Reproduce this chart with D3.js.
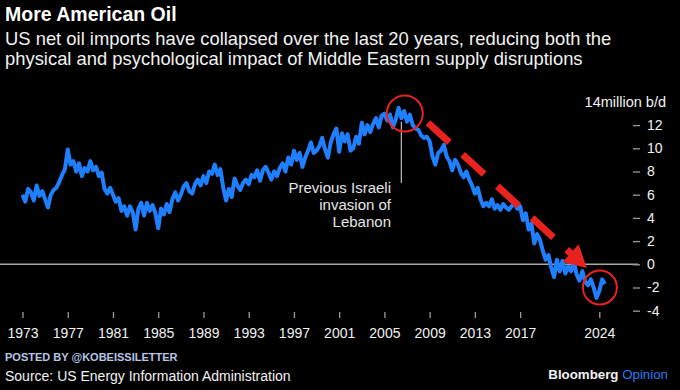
<!DOCTYPE html>
<html>
<head>
<meta charset="utf-8">
<script src="https://d3js.org/d3.v7.min.js"></script>
<style>
  html, body { margin:0; padding:0; background:#000; }
  svg { display:block; font-family:"Liberation Sans", Arial, sans-serif; }
  .axis text { fill:#f2f2f2; font-size:14px; }
  .axis line { stroke:#9a9a9a; stroke-width:1.3; }
  .axis path { display:none; }
</style>
</head>
<body>
<div id="chart"></div>
<script>
// US net oil imports, million b/d (quarterly readings)
var years = [];
for (var yr = 1973; yr <= 2024; yr++) {
  for (var q = 0; q < 4; q++) {
    if (yr === 2024 && q > 2) break;
    years.push(yr + q * 0.25);
  }
}
var imports = [
  6.0, 5.4, 6.5, 6.2,   5.5, 6.8, 5.9, 6.3,   5.6, 4.9, 6.0, 6.4,   6.6, 7.1, 7.7, 8.2,
  9.9, 8.6, 8.9, 8.0,   8.7, 7.6, 8.3, 8.0,   8.9, 8.1, 8.4, 7.6,   7.9, 6.5, 6.1, 6.6,
  6.0, 5.4, 5.7, 4.6,   5.0, 4.2, 5.0, 4.5,   3.0, 4.8, 5.3, 4.2,   5.3, 4.6, 5.1, 4.4,
  3.1, 4.8, 4.3, 5.2,   4.5, 5.6, 6.2, 5.5,   6.0, 6.7, 7.0, 6.3,   6.1, 6.9, 7.3, 6.8,
  7.6, 7.0, 8.0, 7.8,   8.6, 7.7, 8.2, 6.6,   5.5, 6.5, 5.8, 7.4,   6.8, 6.4, 7.0, 7.3,
  6.9, 7.7, 7.5, 8.1,   7.2, 8.1, 8.4, 7.9,   7.3, 8.0, 7.6, 8.3,   8.7, 8.0, 9.2, 8.6,
  9.8, 9.0, 9.6, 8.4,   9.2, 9.8, 10.5, 9.6,  9.8, 10.2, 10.9, 9.9, 9.2, 10.5, 11.2, 11.7,
  9.7, 11.3, 10.6, 11.2, 9.8, 10.0, 11.0, 10.4, 12.2, 11.2, 12.0, 11.4, 12.1, 12.6, 11.8, 12.8,
  13.0, 12.4, 12.9, 11.8, 12.5, 13.5, 12.6, 13.2, 12.3, 12.9, 12.0, 11.7, 11.6, 11.1, 10.9, 11.0,
  10.6, 9.3, 8.6, 9.6,  9.8, 10.3, 9.3, 8.9,  8.1, 9.0, 8.6, 7.9,   7.5, 8.0, 7.3, 6.8,
  6.1, 6.6, 5.6, 5.0,   5.3, 5.0, 5.6, 4.8,   5.1, 4.7, 5.2, 4.9,   4.7, 5.0, 5.3, 4.8,
  5.0, 3.8, 4.4, 3.0,   3.5, 1.8, 2.6, 2.1,   1.2, 0.4, 0.8, -0.3,  -1.1, 0.4, -0.6, 0.3,
  -0.8, -0.2, -0.6, 0.2, -0.9, -1.4, -0.6, -1.5, -1.8, -1.3, -2.0, -2.9, -2.3, -1.3, -1.7
];
var xTicks = [1973, 1977, 1981, 1985, 1989, 1993, 1997, 2001, 2005, 2009, 2013, 2017, 2024];
var yTicks = [-4, -2, 0, 2, 4, 6, 8, 10, 12];

var W = 680, H = 390;
var svg = d3.select('#chart').append('svg')
  .attr('width', W).attr('height', H);
svg.append('rect').attr('width', W).attr('height', H).attr('fill', '#000');

var x = d3.scaleLinear().domain([1973, 2024]).range([22.5, 599.3]);
var y = d3.scaleLinear().domain([-4, 14]).range([310.7, 101.9]);

// titles
svg.append('text').attr('x', 5).attr('y', 21)
  .attr('fill', '#fff').style('font-size', '19.5px').style('font-weight', 'bold')
  .text('More American Oil');
svg.append('text').attr('x', 5).attr('y', 45)
  .attr('fill', '#f2f2f2').style('font-size', '18.4px')
  .text('US net oil imports have collapsed over the last 20 years, reducing both the');
svg.append('text').attr('x', 5).attr('y', 65)
  .attr('fill', '#f2f2f2').style('font-size', '18.4px')
  .text('physical and psychological impact of Middle Eastern supply disruptions');

// zero line
svg.append('line')
  .attr('x1', 0).attr('x2', 638)
  .attr('y1', y(0)).attr('y2', y(0))
  .attr('stroke', '#a8a8a8').attr('stroke-width', 1.5);

// y axis
svg.append('g').attr('class', 'axis')
  .attr('transform', 'translate(633,0)')
  .call(d3.axisRight(y).tickValues(yTicks).tickSize(7).tickPadding(7)
    .tickFormat(function(d) { return String(d); }));
svg.append('text').attr('x', 666).attr('y', y(14)).attr('dy', '0.35em')
  .attr('text-anchor', 'end').attr('fill', '#f2f2f2').style('font-size', '14.5px')
  .text('14million b/d');

// x axis
svg.append('g').attr('class', 'axis')
  .attr('transform', 'translate(0,312)')
  .call(d3.axisBottom(x).tickValues(xTicks).tickSize(6).tickPadding(10)
    .tickFormat(function(d) { return String(d); }));

// annotation: 2006 Lebanon
var warYear = 2006.5;
svg.append('line')
  .attr('x1', x(warYear)).attr('x2', x(warYear))
  .attr('y1', y(12.3)).attr('y2', y(7.0))
  .attr('stroke', '#b0b0b0').attr('stroke-width', 1.3);

// the series
var line = d3.line()
  .x(function(d, i) { return x(years[i]); })
  .y(function(d) { return y(d); });
svg.append('path')
  .datum(imports)
  .attr('d', line)
  .attr('fill', 'none')
  .attr('stroke', '#1f80ff')
  .attr('stroke-width', 4)
  .attr('stroke-linejoin', 'round');

var noteLines = ['Previous Israeli', 'invasion of', 'Lebanon'];
svg.append('g').selectAll('text')
  .data(noteLines).enter().append('text')
  .attr('x', 391)
  .attr('y', function(d, i) { return 193 + i * 17; })
  .attr('text-anchor', 'end')
  .attr('fill', '#e6e6e6').style('font-size', '15px')
  .text(function(d) { return d; });

// red circles
var red = '#e8231f';
svg.append('circle').attr('cx', x(2006.8)).attr('cy', y(13.0)).attr('r', 18)
  .attr('fill', 'none').attr('stroke', red).attr('stroke-width', 2);
svg.append('circle').attr('cx', x(2024.05)).attr('cy', y(-2.0)).attr('r', 17)
  .attr('fill', 'none').attr('stroke', red).attr('stroke-width', 2);

// red dashed arrow
var a0 = [x(2008.85), y(12.2)], a1 = [x(2022.9), y(-0.32)];
var dx = a1[0] - a0[0], dy = a1[1] - a0[1], len = Math.sqrt(dx*dx + dy*dy);
var ux = dx / len, uy = dy / len;
var headLen = 22, headW = 12;
var hb = [a1[0] - ux * headLen, a1[1] - uy * headLen];
svg.append('line')
  .attr('x1', a0[0]).attr('y1', a0[1])
  .attr('x2', hb[0] + ux * 2).attr('y2', hb[1] + uy * 2)
  .attr('stroke', red).attr('stroke-width', 7)
  .attr('stroke-dasharray', '29,18');
svg.append('path')
  .attr('d', 'M' + a1[0] + ',' + a1[1] +
    'L' + (hb[0] - uy * headW) + ',' + (hb[1] + ux * headW) +
    'L' + (hb[0] + uy * headW) + ',' + (hb[1] - ux * headW) + 'Z')
  .attr('fill', red);

// footer
svg.append('text').attr('x', 5).attr('y', 361)
  .attr('fill', '#b7c6e6').style('font-size', '11px').style('font-weight', 'bold')
  .text('POSTED BY @KOBEISSILETTER');
svg.append('text').attr('x', 5).attr('y', 381)
  .attr('fill', '#f2f2f2').style('font-size', '14px')
  .text('Source: US Energy Information Administration');
var brand = svg.append('text').attr('x', 668).attr('y', 379)
  .attr('text-anchor', 'end').style('font-size', '13.3px');
brand.append('tspan').attr('fill', '#f2f2f2').style('font-weight', 'bold').text('Bloomberg ');
brand.append('tspan').attr('fill', '#2a7bf0').text('Opinion');
</script>
</body>
</html>
